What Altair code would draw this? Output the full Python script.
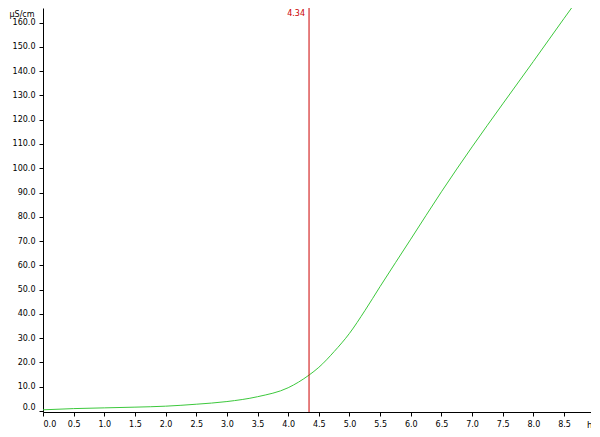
import altair as alt
import pandas as pd

# curve (time in h, conductivity in µS/cm)
hours = [0.0, 0.5, 1.0, 1.5, 2.0, 2.5, 3.0, 3.5, 4.0, 4.34, 4.5, 4.75, 5.0, 5.25, 5.5, 6.0, 6.5, 7.0, 7.5, 8.0, 8.5, 8.64]
cond = [0.5, 1.0, 1.3, 1.6, 2.0, 2.8, 3.9, 5.9, 9.6, 14.8, 18.0, 24.5, 32.0, 41.3, 51.3, 70.8, 90.3, 108.8, 126.5, 144.0, 161.7, 166.6]

marker_h = [4.34]
marker_label = ["4.34"]

x_ticks = [0.0, 0.5, 1.0, 1.5, 2.0, 2.5, 3.0, 3.5, 4.0, 4.5, 5.0, 5.5, 6.0, 6.5, 7.0, 7.5, 8.0, 8.5]
y_ticks = [0, 10, 20, 30, 40, 50, 60, 70, 80, 90, 100, 110, 120, 130, 140, 150, 160]

FONT = "DejaVu Sans"

curve_df = pd.DataFrame({"h": hours, "v": cond})
marker_df = pd.DataFrame({"h": marker_h, "label": marker_label})

x_scale = alt.Scale(domain=[0, 8.94], nice=False, zero=False)
y_scale = alt.Scale(domain=[-0.4, 166.0], nice=False, zero=False)

x_axis = alt.Axis(
    values=x_ticks, format=".1f", grid=False, title="h",
    titleFont=FONT, titleFontSize=8.5, titleFontWeight="normal", titleColor="black",
    titleAlign="right", titleBaseline="bottom", titleAnchor="end",
    titleX=549, titleY=17,
    labelFont=FONT, labelFontSize=8, labelColor="black", labelPadding=4,
    labelOverlap=False,
    tickSize=4, tickColor="black", domainColor="black", labelFlush=True,
)
y_axis = alt.Axis(
    values=y_ticks, format=".1f", grid=False, title="µS/cm",
    titleFont=FONT, titleFontSize=8, titleFontWeight="normal", titleColor="black",
    titleAngle=0, titleAlign="left", titleBaseline="top",
    titleX=-34, titleY=2,
    labelFont=FONT, labelFontSize=8, labelColor="black", labelPadding=4,
    labelOverlap=False,
    tickSize=4, tickColor="black", domainColor="black", labelFlush=5,
)

line = alt.Chart(curve_df).mark_line(
    color="#3cc83c", strokeWidth=1, interpolate="monotone", clip=False
).encode(
    x=alt.X("h:Q", scale=x_scale, axis=x_axis),
    y=alt.Y("v:Q", scale=y_scale, axis=y_axis),
)

rule = alt.Chart(marker_df).mark_rule(color="#cc0000", strokeWidth=1).encode(
    x=alt.X("h:Q", scale=x_scale, axis=x_axis),
)

label = alt.Chart(marker_df).mark_text(
    color="#cc0000", font=FONT, fontSize=8, align="right", baseline="top", dx=-4, dy=2
).encode(
    x=alt.X("h:Q", scale=x_scale, axis=x_axis),
    y=alt.value(0),
    text="label:N",
)

chart = alt.layer(line, rule, label).properties(
    width=548, height=404,
    autosize=alt.AutoSizeParams(type="none"),
    padding={"left": 35, "top": 0, "right": 0, "bottom": 17},
    background="white",
).configure_view(stroke=None)

chart.save("out.html", embed_options={"renderer": "svg", "actions": False})
